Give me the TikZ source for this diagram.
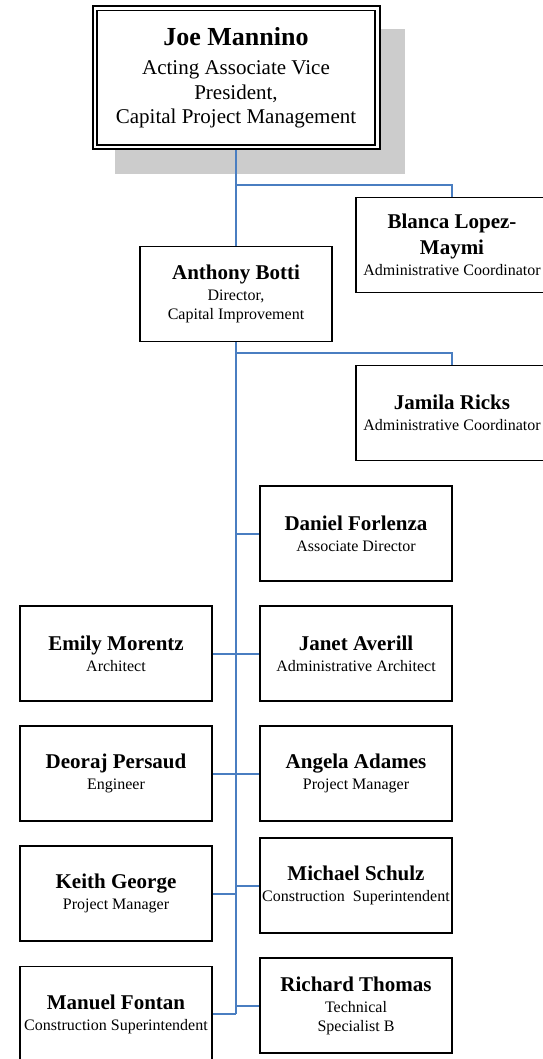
\documentclass[tikz,border=0pt]{standalone}
\usepackage{fontspec}
\setmainfont{Liberation Serif}
\definecolor{lineblue}{RGB}{74,126,193}
\definecolor{shadowgray}{RGB}{204,204,204}
\newcommand\pname{\fontsize{21}{19}\bfseries}
\begin{document}
\begin{tikzpicture}[x=1pt,y=-1pt,
  box/.style={draw=black, line width=1.8pt, fill=white, minimum width=192pt, minimum height=95pt, inner sep=0pt, align=center, font=\fontsize{16}{19}\selectfont},
  topbox/.style={draw=black, line width=1.2pt, fill=white, minimum width=278pt, minimum height=134.5pt, inner sep=0pt, align=center, font=\fontsize{21}{24.5}\selectfont},
  frame/.style={draw=black, line width=2.4pt, fill=white},
  conn/.style={draw=lineblue, line width=2pt},
  spine/.style={draw=lineblue, line width=2.6pt}]
\useasboundingbox (0,0) rectangle (542,1059);
% shadow and outer frame of the top box
\fill[shadowgray] (115,29) rectangle (405,174);
\draw[frame] (93,6) rectangle (380,149);
\node[topbox] (joe) at (236,77.75) {{\fontsize{26}{24.5}\bfseries Joe Mannino}\\[5pt]Acting Associate Vice\\President,\\Capital Project Management};
% boxes
\node[box] (blanca) at (452,245) {{\pname Blanca Lopez-}\\[6pt]{\pname Maymi}\\[2pt]Administrative Coordinator};
\node[box] (botti) at (236,294) {{\pname Anthony Botti}\\[2pt]Director,\\Capital Improvement};
\node[box] (jamila) at (452,413) {{\pname Jamila Ricks}\\[2pt]Administrative Coordinator};
\node[box] (daniel) at (356,533.5) {{\pname Daniel Forlenza}\\[2pt]Associate Director};
\node[box] (emily) at (116,653.5) {{\pname Emily Morentz}\\[2pt]Architect};
\node[box] (janet) at (356,653.5) {{\pname Janet Averill}\\[2pt]Administrative Architect};
\node[box] (deoraj) at (116,773.5) {{\pname Deoraj Persaud}\\[2pt]Engineer};
\node[box] (angela) at (356,773.5) {{\pname Angela Adames}\\[2pt]Project Manager};
\node[box] (keith) at (116,893.5) {{\pname Keith George}\\[2pt]Project Manager};
\node[box] (michael) at (356,885.5) {{\pname Michael Schulz}\\[2pt]Construction\ \ Superintendent};
\node[box] (manuel) at (116,1014) {{\pname Manuel Fontan}\\[2pt]Construction Superintendent};
\node[box] (richard) at (356,1005.5) {{\pname Richard Thomas}\\[2pt]Technical\\Specialist B};
% connectors
\coordinate (j1) at (236,185.5);
\coordinate (b1) at (236,353);
\draw[conn] ([yshift=-4.6pt]joe.south) -- (botti.north);
\draw[conn] (j1) -| (blanca.north);
\draw[spine] (botti.south) -- (botti.south |- manuel.east);
\draw[conn] (b1) -| (jamila.north);
\draw[conn] (daniel.west) -- (daniel.west -| botti.south);
\draw[conn] (janet.west) -- (janet.west -| botti.south);
\draw[conn] (emily.east) -- (emily.east -| botti.south);
\draw[conn] (angela.west) -- (angela.west -| botti.south);
\draw[conn] (deoraj.east) -- (deoraj.east -| botti.south);
\draw[conn] (michael.west) -- (michael.west -| botti.south);
\draw[conn] (keith.east) -- (keith.east -| botti.south);
\draw[conn] (richard.west) -- (richard.west -| botti.south);
\draw[conn] (manuel.east) -- (manuel.east -| botti.south);
\end{tikzpicture}
\end{document}
